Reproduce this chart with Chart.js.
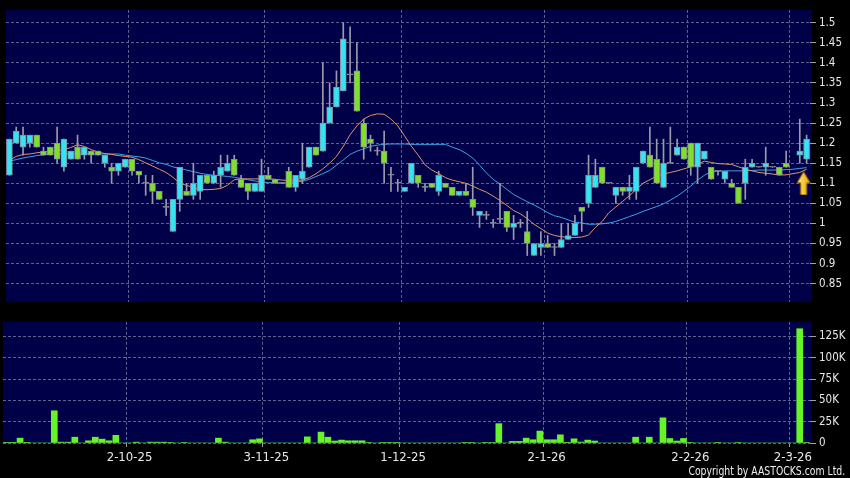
<!DOCTYPE html>
<html>
<head>
<meta charset="utf-8">
<script src="https://cdn.jsdelivr.net/npm/chart.js"></script>
<style>
  html, body { margin: 0; padding: 0; background: #000; }
  body { width: 850px; height: 478px; position: relative; overflow: hidden; }
  #priceBox { position: absolute; left: 0; top: 0; width: 850px; height: 312px; }
  #volBox { position: absolute; left: 0; top: 312px; width: 850px; height: 166px; }
  #copy { position: absolute; right: 5px; top: 464px; height: 14px; line-height: 14px; color: #eeeeee;
          font-family: "DejaVu Sans Condensed", "DejaVu Sans", sans-serif; font-size: 11.5px;
          transform: scaleX(0.9); transform-origin: right center; white-space: nowrap; }
</style>
</head>
<body>
<div id="priceBox"><canvas id="price"></canvas></div>
<div id="volBox"><canvas id="vol"></canvas></div>
<div id="copy">Copyright by AASTOCKS.com Ltd.</div>
<script>
// trading days (d-m-yy)
const dates = [
  '5-9-25','8-9-25','9-9-25','10-9-25','11-9-25','12-9-25','15-9-25','16-9-25','17-9-25','18-9-25',
  '19-9-25','22-9-25','23-9-25','24-9-25','25-9-25','26-9-25','29-9-25','30-9-25',
  '2-10-25','3-10-25','6-10-25','8-10-25','9-10-25','10-10-25','13-10-25','14-10-25','15-10-25','16-10-25',
  '17-10-25','20-10-25','21-10-25','22-10-25','23-10-25','24-10-25','27-10-25','28-10-25','30-10-25','31-10-25',
  '3-11-25','4-11-25','5-11-25','6-11-25','7-11-25','10-11-25','11-11-25','12-11-25','13-11-25','14-11-25',
  '17-11-25','18-11-25','19-11-25','20-11-25','21-11-25','24-11-25','25-11-25','26-11-25','27-11-25','28-11-25',
  '1-12-25','2-12-25','3-12-25','4-12-25','5-12-25','8-12-25','9-12-25','10-12-25','11-12-25','12-12-25',
  '15-12-25','16-12-25','17-12-25','18-12-25','19-12-25','22-12-25','23-12-25','24-12-25','29-12-25','30-12-25','31-12-25',
  '2-1-26','5-1-26','6-1-26','7-1-26','8-1-26','9-1-26','12-1-26','13-1-26','14-1-26','15-1-26',
  '16-1-26','19-1-26','20-1-26','21-1-26','22-1-26','23-1-26','26-1-26','27-1-26','28-1-26','29-1-26','30-1-26',
  '2-2-26','3-2-26','4-2-26','5-2-26','6-2-26','9-2-26','10-2-26','11-2-26','12-2-26','13-2-26',
  '23-2-26','24-2-26','25-2-26','26-2-26','27-2-26',
  '2-3-26','3-3-26','4-3-26'
];

const open = [
  1.12,1.20,1.19,1.20,1.22,1.18,1.19,1.20,1.14,1.16,
  1.19,1.17,1.18,1.18,1.15,1.14,1.13,1.14,1.16,1.13,
  1.10,1.10,1.08,1.04,0.98,1.06,1.08,1.07,1.08,1.12,
  1.10,1.12,1.13,1.16,1.11,1.10,1.08,1.08,1.12,1.11,
  1.10,1.13,1.09,1.11,1.14,1.19,1.18,1.25,1.29,1.33,
  1.37,1.38,1.25,1.21,1.18,1.18,1.12,1.10,1.08,1.10,
  1.12,1.09,1.10,1.08,1.10,1.09,1.07,1.08,1.06,1.02,
  1.02,1.00,1.01,1.03,0.99,1.00,0.98,0.92,0.94,0.95,
  0.94,0.94,0.96,0.97,1.04,1.05,1.09,1.14,1.10,1.07,
  1.09,1.08,1.08,1.15,1.17,1.16,1.09,1.15,1.17,1.19,
  1.20,1.14,1.16,1.14,1.13,1.11,1.10,1.09,1.10,1.14,
  1.14,1.14,1.14,1.14,1.15,null,1.17,1.16
];
const high = [
  1.21,1.24,1.24,1.22,1.22,1.19,1.19,1.24,1.21,1.18,
  1.22,1.19,1.18,1.18,1.17,1.15,1.15,1.16,1.16,1.13,
  1.12,1.12,1.08,1.06,1.06,1.14,1.10,1.15,1.12,1.12,
  1.13,1.17,1.17,1.17,1.12,1.10,1.10,1.16,1.14,1.11,
  1.10,1.14,1.12,1.20,1.19,1.19,1.40,1.35,1.38,1.50,
  1.49,1.45,1.26,1.22,1.19,1.23,1.14,1.11,1.09,1.15,
  1.12,1.10,1.10,1.13,1.10,1.09,1.08,1.10,1.14,1.03,
  1.03,1.01,1.10,1.03,1.02,1.01,1.03,0.95,0.98,0.97,
  0.95,1.00,1.00,1.02,1.04,1.17,1.16,1.14,1.10,1.09,
  1.09,1.12,1.14,1.18,1.24,1.21,1.21,1.24,1.21,1.19,
  1.20,1.20,1.18,1.14,1.13,1.13,1.11,1.09,1.16,1.16,
  1.14,1.19,1.14,1.14,1.18,null,1.26,1.22
];
const low = [
  1.12,1.20,1.17,1.19,1.19,1.17,1.17,1.15,1.13,1.16,
  1.16,1.16,1.15,1.17,1.14,1.10,1.12,1.14,1.12,1.10,
  1.07,1.05,1.06,1.02,0.98,1.03,1.07,1.06,1.06,1.10,
  1.10,1.09,1.13,1.12,1.09,1.06,1.08,1.08,1.11,1.10,
  1.10,1.09,1.08,1.10,1.14,1.17,1.18,1.25,1.29,1.33,
  1.35,1.28,1.16,1.18,1.17,1.10,1.08,1.08,1.08,1.10,
  1.09,1.08,1.09,1.07,1.09,1.07,1.07,1.07,1.02,0.99,
  1.01,0.99,1.00,0.98,0.96,0.99,0.92,0.92,0.92,0.94,
  0.92,0.94,0.96,0.97,0.98,1.04,1.09,1.10,1.10,1.05,
  1.07,1.06,1.06,1.15,1.14,1.10,1.09,1.15,1.17,1.16,
  1.12,1.10,1.16,1.11,1.12,1.10,1.09,1.05,1.06,1.14,
  1.14,1.12,1.14,1.12,1.14,null,1.15,1.15
];
const close = [
  1.21,1.23,1.22,1.22,1.19,1.17,1.17,1.16,1.21,1.18,
  1.16,1.19,1.17,1.17,1.17,1.13,1.15,1.16,1.13,1.12,
  1.10,1.08,1.06,1.04,1.06,1.14,1.07,1.10,1.12,1.10,
  1.12,1.14,1.15,1.12,1.09,1.08,1.10,1.12,1.11,1.10,
  1.10,1.09,1.12,1.13,1.19,1.17,1.25,1.29,1.34,1.46,
  1.37,1.28,1.19,1.20,1.18,1.15,1.12,1.10,1.09,1.15,
  1.10,1.09,1.09,1.12,1.09,1.07,1.08,1.07,1.04,1.03,
  1.02,1.00,1.01,0.99,1.00,1.00,0.95,0.95,0.95,0.94,
  0.94,0.96,0.97,1.00,1.03,1.12,1.12,1.10,1.10,1.09,
  1.08,1.09,1.14,1.18,1.14,1.10,1.15,1.15,1.19,1.16,
  1.14,1.20,1.18,1.11,1.13,1.13,1.09,1.05,1.14,1.15,
  1.14,1.15,1.14,1.12,1.14,null,1.18,1.21
];

// moving averages as plotted (short = orange, long = blue)
const maShort = [
  1.157,1.167,1.172,1.173,1.176,1.178,1.180,1.181,1.184,1.189,
  1.196,1.192,1.184,1.178,1.174,1.172,1.169,1.167,1.165,1.159,
  1.151,1.143,1.135,1.127,1.115,1.100,1.095,1.089,1.085,1.084,
  1.085,1.087,1.095,1.109,1.111,1.111,1.111,1.111,1.111,1.110,
  1.108,1.107,1.107,1.108,1.114,1.124,1.136,1.150,1.167,1.192,
  1.221,1.243,1.260,1.269,1.273,1.272,1.260,1.243,1.218,1.192,
  1.170,1.146,1.133,1.124,1.114,1.108,1.104,1.100,1.093,1.085,
  1.078,1.068,1.057,1.045,1.032,1.024,1.012,0.998,0.987,0.976,
  0.970,0.967,0.965,0.965,0.966,0.971,0.990,1.005,1.027,1.041,
  1.055,1.069,1.085,1.100,1.109,1.118,1.123,1.127,1.131,1.136,
  1.141,1.148,1.155,1.152,1.149,1.148,1.147,1.141,1.135,1.131,
  1.127,1.125,1.123,1.121,1.121,1.124,1.127,1.135
];
const maLong = [
  1.155,1.159,1.163,1.166,1.169,1.171,1.173,1.173,1.173,1.173,
  1.173,1.173,1.173,1.173,1.173,1.173,1.173,1.170,1.168,1.166,
  1.163,1.157,1.151,1.147,1.141,1.137,1.133,1.129,1.125,1.122,
  1.120,1.119,1.117,1.115,1.112,1.109,1.106,1.103,1.102,1.101,
  1.100,1.101,1.103,1.105,1.110,1.117,1.124,1.132,1.145,1.158,
  1.172,1.180,1.186,1.192,1.195,1.197,1.198,1.198,1.198,1.197,
  1.197,1.197,1.197,1.197,1.197,1.190,1.184,1.175,1.163,1.145,
  1.126,1.110,1.098,1.085,1.072,1.063,1.054,1.046,1.037,1.027,
  1.019,1.015,1.009,1.003,1.001,0.998,0.998,0.999,1.001,1.005,
  1.011,1.017,1.023,1.030,1.036,1.042,1.049,1.058,1.068,1.080,
  1.093,1.108,1.120,1.129,1.130,1.131,1.131,1.131,1.131,1.132,
  1.133,1.133,1.133,1.133,1.134,1.135,1.137,1.139
];

// volume in thousands of shares
const volumeK = [
  0.4,0.4,5.7,0.4,0,0,0,37.8,1,1,
  6.8,0,2.6,6.8,4.5,2.6,9,0,0,1,
  0,1,1,1,0.5,0,0.5,0,0,0,
  0,5.7,1,0,0,0,3.8,4.9,0,0,
  0,0,0,0,7.2,0,12.8,6.8,2.3,3.4,
  2.6,2.6,2.6,0.5,0,0.5,0.5,0.5,0,0,
  0,0,0,0,0,0,0,0.5,0.5,0,
  0.5,0.5,22.7,0,1.9,1.9,5.7,3.8,14,3.8,
  3.8,9.6,0.8,4.9,1.1,3.4,2.3,0,0,0,
  0,0,6.8,0,6.8,0,29.5,5.3,2.3,5.3,
  0.5,0,0,0,0.5,0,0,0.5,0,0,
  0,0,0,0,0,0,134,0.5
];

const priceTicks = [0.85, 0.9, 0.95, 1, 1.05, 1.1, 1.15, 1.2, 1.25, 1.3, 1.35, 1.4, 1.45, 1.5];
const volumeTicks = [0, 25, 50, 75, 100, 125];

// yellow arrow marker
const arrowIndex = 117;
const arrowPrice = 1.10;

const FONT = '"DejaVu Sans Condensed", "DejaVu Sans", sans-serif';
const UP = '#33e4f2';
const DOWN = '#7ee02a';
const GRID = '#62628f';

Chart.defaults.font.family = FONT;
Chart.defaults.animation = false;

const monthStart = dates.map((d, i) => i > 0 && d.split('-')[1] !== dates[i - 1].split('-')[1]);
const monthGrid = (ctx) => monthStart[ctx.index] ? GRID : 'rgba(0,0,0,0)';
const monthTick = (ctx) => monthStart[ctx.index] ? '#a0a0a0' : 'rgba(0,0,0,0)';

const bodies = open.map((o, i) => o == null ? null : [o, close[i]]);
const wicks = high.map((h, i) => h == null ? null : [low[i], h]);
const bodyColors = open.map((o, i) => close[i] > o ? UP : (close[i] < o ? DOWN : '#8d8d9e'));
const arrowData = dates.map((d, i) => i === arrowIndex ? arrowPrice : null);

// dark navy plotting panel
const panelBg = {
  id: 'panelBg',
  beforeDraw(chart) {
    const { ctx, chartArea: a } = chart;
    ctx.save();
    ctx.fillStyle = '#000048';
    ctx.fillRect(a.left, a.top, a.right - a.left + 2, a.bottom - a.top);
    ctx.restore();
  }
};

function makeArrow() {
  const c = document.createElement('canvas');
  c.width = 20; c.height = 24;
  const g = c.getContext('2d');
  const grad = g.createLinearGradient(0, 0, 14, 0);
  grad.addColorStop(0, '#fff07a');
  grad.addColorStop(1, '#e8a400');
  g.beginPath();
  g.moveTo(7, 0.5);
  g.lineTo(13.5, 11.5);
  g.lineTo(10, 11.5);
  g.lineTo(10, 23.5);
  g.lineTo(4, 23.5);
  g.lineTo(4, 11.5);
  g.lineTo(0.5, 11.5);
  g.closePath();
  g.fillStyle = grad;
  g.fill();
  g.strokeStyle = '#a86a00';
  g.lineWidth = 1;
  g.stroke();
  return c;
}

new Chart(document.getElementById('price'), {
  type: 'bar',
  data: {
    labels: dates,
    datasets: [
      { type: 'line', data: arrowData, showLine: false, pointStyle: makeArrow(), pointRadius: 5, order: 0 },
      {
        data: bodies, backgroundColor: bodyColors, borderColor: '#8d8d9e', borderWidth: 1,
        borderSkipped: false, grouped: false, barThickness: 6,
        minBarLength: 1, order: 2
      },
      { data: wicks, backgroundColor: '#9a9aa8', grouped: false, barThickness: 1, order: 3 },
      { type: 'line', data: maShort, borderColor: '#e4946a', borderWidth: 1, pointRadius: 0, order: 4 },
      { type: 'line', data: maLong, borderColor: '#3ba4e4', borderWidth: 1, pointRadius: 0, order: 4 }
    ]
  },
  options: {
    responsive: true,
    maintainAspectRatio: false,
    devicePixelRatio: 1,
    events: [],
    layout: { padding: { left: 3, top: 5, right: 0, bottom: 0 } },
    plugins: { legend: { display: false }, tooltip: { enabled: false } },
    scales: {
      x: {
        offset: true,
        grid: { offset: true, color: monthGrid, drawTicks: false },
        border: { display: false, dash: [3, 2] },
        ticks: { display: false, autoSkip: false },
        afterFit: (s) => { s.height = 7; }
      },
      y: {
        position: 'right',
        min: 0.804,
        max: 1.532,
        afterBuildTicks: (s) => { s.ticks = priceTicks.map(v => ({ value: v })); },
        grid: { color: GRID, tickColor: '#a0a0a0', tickLength: 6 },
        border: { display: false, dash: [3, 2] },
        ticks: { color: '#e8e8e8', font: { size: 11.5 }, padding: 3, callback: (v) => String(v) },
        afterFit: (s) => { s.width = 40; }
      }
    }
  },
  plugins: [panelBg]
});

new Chart(document.getElementById('vol'), {
  type: 'bar',
  data: {
    labels: dates,
    datasets: [
      { data: volumeK, backgroundColor: '#66f428', barThickness: 6 }
    ]
  },
  options: {
    responsive: true,
    maintainAspectRatio: false,
    devicePixelRatio: 1,
    events: [],
    layout: { padding: { left: 3, top: 6, right: 0, bottom: 0 } },
    plugins: { legend: { display: false }, tooltip: { enabled: false } },
    scales: {
      x: {
        offset: true,
        grid: { offset: true, color: monthGrid, tickColor: monthTick, tickLength: 4 },
        border: { display: false, dash: [3, 2] },
        ticks: {
          autoSkip: false, maxRotation: 0, minRotation: 0, padding: 3,
          color: '#e8e8e8', font: { size: 13 },
          callback: (v, i) => monthStart[i] ? dates[i] : ''
        },
        afterFit: (s) => { s.height = 35; }
      },
      y: {
        position: 'right',
        min: 0,
        max: 142,
        afterBuildTicks: (s) => { s.ticks = volumeTicks.map(v => ({ value: v })); },
        grid: { color: GRID, tickColor: '#a0a0a0', tickLength: 6 },
        border: { display: false, dash: [3, 2] },
        ticks: { color: '#e8e8e8', font: { size: 11.5 }, padding: 3, callback: (v) => v ? v + 'K' : '0' },
        afterFit: (s) => { s.width = 40; }
      }
    }
  },
  plugins: [panelBg]
});
</script>
</body>
</html>
